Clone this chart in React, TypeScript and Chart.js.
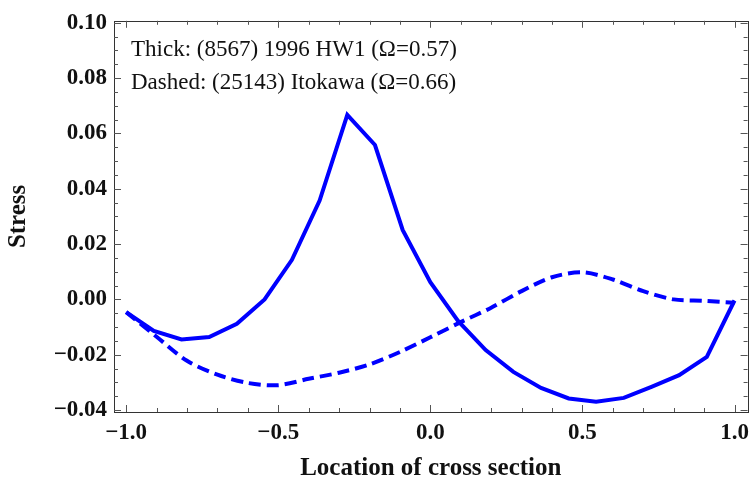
import React, { useEffect, useRef } from 'react';
import { Chart, registerables } from 'chart.js';

Chart.register(...registerables);

const xThick = [-1, -0.909, -0.818, -0.727, -0.636, -0.545, -0.455, -0.364, -0.273, -0.182, -0.091, 0, 0.091, 0.182, 0.273, 0.364, 0.455, 0.545, 0.636, 0.727, 0.818, 0.909, 1];
const thickStress = [-0.0046, -0.0114, -0.0145, -0.0136, -0.0088, 0.0, 0.0143, 0.0357, 0.0667, 0.0558, 0.0251, 0.0062, -0.0078, -0.0183, -0.0262, -0.032, -0.0358, -0.037, -0.0356, -0.0316, -0.0274, -0.0208, -0.0004];

const xDashed = [-1, -0.9, -0.8, -0.7, -0.6, -0.5, -0.4, -0.3, -0.2, -0.1, 0, 0.1, 0.2, 0.3, 0.4, 0.5, 0.6, 0.7, 0.8, 0.9, 1];
const dashedStress = [-0.0046, -0.0135, -0.0222, -0.0272, -0.0302, -0.031, -0.0287, -0.0265, -0.0235, -0.019, -0.0137, -0.0082, -0.003, 0.003, 0.008, 0.0098, 0.0072, 0.003, 0.0, -0.0005, -0.0012];

const yTicks = [-0.04, -0.02, 0, 0.02, 0.04, 0.06, 0.08, 0.1];
const xTicks = [-1, -0.5, 0, 0.5, 1];
const yMinorStep = 0.005;
const xMinorStep = 0.1;

const legendLines = ['Thick: (8567) 1996 HW1 (\u03A9=0.57)', 'Dashed: (25143) Itokawa (\u03A9=0.66)'];
const xTitle = 'Location of cross section';
const yTitle = 'Stress';

const SERIF = '"Liberation Serif", "Times New Roman", serif';

const fmt = (v: number, d: number) => (v < -1e-9 ? '\u2212' : '') + Math.abs(v).toFixed(d);

const framePlugin = {
  id: 'frameTicks',
  afterDraw(chart: any) {
    const { ctx, chartArea } = chart;
    const { left, right, top, bottom } = chartArea;
    const xs = chart.scales.x;
    const ys = chart.scales.y;
    ctx.save();
    ctx.strokeStyle = '#333';
    ctx.lineWidth = 1;
    ctx.strokeRect(Math.round(left) + 0.5, Math.round(top) + 0.5, Math.round(right - left), Math.round(bottom - top));
    ctx.strokeStyle = '#555';
    const major = 7;
    const minor = 4;
    const line = (x1: number, y1: number, x2: number, y2: number) => {
      ctx.beginPath();
      ctx.moveTo(x1, y1);
      ctx.lineTo(x2, y2);
      ctx.stroke();
    };
    for (let v = -1; v <= 1.0001; v += xMinorStep) {
      const isMajor = xTicks.some((t) => Math.abs(t - v) < 1e-6);
      const px = Math.round(xs.getPixelForValue(v)) + 0.5;
      const len = isMajor ? major : minor;
      line(px, bottom, px, bottom - len);
      line(px, top, px, top + len);
    }
    for (let v = -0.04; v <= 0.1001; v += yMinorStep) {
      const isMajor = yTicks.some((t) => Math.abs(t - v) < 1e-6);
      const py = Math.round(ys.getPixelForValue(v)) + 0.5;
      const len = isMajor ? major : minor;
      line(left, py, left + len, py);
      line(right, py, right - len, py);
    }
    ctx.fillStyle = '#111';
    ctx.font = `23px ${SERIF}`;
    ctx.textBaseline = 'middle';
    ctx.textAlign = 'left';
    ctx.fillText(legendLines[0], left + 17, top + 29);
    ctx.fillText(legendLines[1], left + 17, top + 62);
    ctx.restore();
  },
};

export default function App() {
  const ref = useRef<HTMLCanvasElement | null>(null);
  useEffect(() => {
    document.body.style.margin = '0';
    const canvas = ref.current!;
    const chart = new Chart(canvas, {
      type: 'line',
      data: {
        datasets: [
          {
            label: 'Thick',
            data: xThick.map((x, i) => ({ x, y: thickStress[i] })),
            borderColor: '#0000ff',
            borderWidth: 4,
            pointRadius: 0,
            fill: false,
            tension: 0,
          },
          {
            label: 'Dashed',
            data: xDashed.map((x, i) => ({ x, y: dashedStress[i] })),
            borderColor: '#0000ff',
            borderWidth: 4,
            borderDash: [12, 6],
            pointRadius: 0,
            fill: false,
            tension: 0.3,
          },
        ],
      },
      options: {
        animation: false,
        responsive: false,
        devicePixelRatio: 1,
        layout: { padding: { top: 20, right: 6, left: 0, bottom: 0 } },
        plugins: { legend: { display: false }, tooltip: { enabled: false } },
        scales: {
          x: {
            type: 'linear',
            min: -1.04,
            max: 1.043,
            grid: { display: false, drawTicks: false },
            border: { display: false },
            afterBuildTicks: (s: any) => {
              s.ticks = xTicks.map((v) => ({ value: v }));
            },
            afterFit: (s: any) => {
              s.height = 68;
            },
            ticks: {
              padding: 7,
              color: '#111',
              maxRotation: 0,
              autoSkip: false,
              font: { family: SERIF, size: 23, weight: 'bold' },
              callback: (v: any) => fmt(Number(v), 1),
            },
            title: {
              display: true,
              text: xTitle,
              color: '#111',
              font: { family: SERIF, size: 25, weight: 'bold', lineHeight: 1 },
              padding: { top: 0, bottom: -1 },
            },
          },
          y: {
            type: 'linear',
            min: -0.0407,
            max: 0.1007,
            grid: { display: false, drawTicks: false },
            border: { display: false },
            afterBuildTicks: (s: any) => {
              s.ticks = yTicks.map((v) => ({ value: v }));
            },
            afterFit: (s: any) => {
              s.width = 114;
            },
            ticks: {
              padding: 7,
              color: '#111',
              autoSkip: false,
              font: { family: SERIF, size: 23, weight: 'bold' },
              callback: (v: any) => fmt(Number(v), 2),
            },
            title: {
              display: true,
              text: yTitle,
              color: '#111',
              font: { family: SERIF, size: 25, weight: 'bold', lineHeight: 1 },
              padding: { top: 6, bottom: 0 },
            },
          },
        },
      },
      plugins: [framePlugin],
    } as any);
    return () => chart.destroy();
  }, []);
  return (
    <div style={{ width: 756, height: 480 }}>
      <canvas ref={ref} width={756} height={480} />
    </div>
  );
}
